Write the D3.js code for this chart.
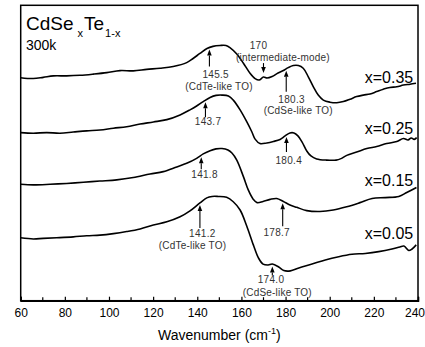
<!DOCTYPE html>
<html>
<head>
<meta charset="utf-8">
<script src="https://cdn.jsdelivr.net/npm/d3@7/dist/d3.min.js"></script>
<style>
  html, body { margin: 0; padding: 0; background: #fff; }
  svg { display: block; }
  text { font-family: "Liberation Sans", Arial, sans-serif; }
</style>
</head>
<body>
<svg id="chart" width="425" height="347"></svg>
<script>
// Far-infrared reflectivity of CdSe(x)Te(1-x) at 300 K, curves offset vertically (arb. units)
const seriesNames = ["x=0.35", "x=0.25", "x=0.15", "x=0.05"];

const wn035 = [60, 65.7, 70.2, 74.8, 80.8, 86.9, 92.9, 99.0, 105.0, 111.0, 117.1, 123.1, 129.1, 135.2, 138.1, 141.2, 144.4, 147.1, 150.3, 153.0, 154.8, 157.9, 160.9, 163.9, 166.2, 168.0, 170.0, 171.6, 173.9, 176.6, 179.0, 181.2, 183.5, 185.8, 188.0, 190.3, 192.6, 194.8, 197.1, 200.1, 203.2, 206.2, 209.2, 212.2, 215.2, 218.3, 221.3, 224.3, 227.3, 230.4, 233.4, 236.4, 239.1];
const int035 = [75.5, 75.2, 75.6, 76.1, 76.1, 76.3, 76.7, 77.2, 77.9, 77.8, 78.3, 78.7, 79.3, 80.6, 82.0, 83.7, 85.4, 86.1, 86.4, 86.4, 85.7, 83.5, 80.4, 77.0, 75.2, 74.7, 75.7, 75.4, 75.9, 77.1, 77.9, 78.9, 79.6, 79.6, 78.7, 75.8, 72.4, 69.6, 67.9, 67.2, 67.0, 67.4, 68.2, 69.1, 69.6, 70.0, 70.8, 71.6, 72.2, 72.4, 73.0, 73.3, 73.6];

const wn025 = [60, 65.7, 71.8, 77.8, 83.8, 89.9, 95.9, 102.0, 108.0, 114.1, 120.1, 126.2, 132.2, 136.7, 139.7, 142.7, 145.8, 148.5, 151.2, 154.1, 156.3, 159.4, 162.4, 164.7, 166.2, 168.4, 171.5, 174.5, 177.5, 179.8, 182.0, 183.8, 185.6, 187.5, 189.6, 191.5, 194.1, 198.6, 202.9, 205.1, 207.7, 212.2, 216.8, 221.3, 225.8, 230.4, 233.4, 235.5, 236.9, 238.3, 239.4];
const int025 = [56.9, 56.7, 56.9, 56.7, 57.1, 57.5, 57.8, 58.4, 58.9, 59.8, 60.5, 61.3, 62.9, 64.6, 65.9, 67.4, 68.8, 69.5, 69.6, 69.3, 67.9, 64.6, 60.6, 57.2, 54.7, 53.2, 53.4, 53.9, 54.6, 55.8, 56.8, 56.8, 55.8, 53.7, 50.7, 49.0, 48.0, 47.6, 47.6, 48.1, 49.2, 50.3, 51.5, 52.2, 53.2, 53.9, 54.9, 54.4, 55.1, 54.6, 55.2];

const wn015 = [60, 65.7, 73.3, 80.8, 88.4, 95.9, 103.5, 111.0, 118.6, 124.6, 130.7, 135.2, 139.7, 142.7, 145.8, 148.5, 151.2, 153.9, 155.7, 157.9, 160.9, 163.1, 165.4, 167.1, 169.8, 173.0, 176.0, 179.0, 182.0, 185.1, 189.6, 195.6, 201.6, 207.7, 213.7, 219.2, 225.2, 231.3, 234.9, 239.3];
const int015 = [39.4, 39.2, 39.4, 39.7, 40.1, 40.5, 40.9, 41.7, 42.9, 43.7, 45.3, 46.5, 48.2, 49.7, 50.8, 51.4, 51.5, 51.0, 50.0, 47.6, 42.0, 37.5, 34.3, 33.2, 33.6, 34.3, 34.6, 33.6, 32.4, 31.6, 30.5, 30.2, 30.7, 31.8, 33.2, 34.6, 34.9, 35.3, 36.6, 38.3];

const wn005 = [60, 65.7, 70.2, 76.3, 83.8, 89.9, 95.9, 102.0, 108.0, 114.1, 120.1, 126.2, 132.2, 136.7, 141.2, 144.3, 146.7, 149.4, 153.3, 156.3, 159.4, 162.4, 165.4, 167.7, 169.8, 172.1, 174.0, 176.9, 179.2, 182.2, 186.0, 192.0, 198.0, 204.1, 210.1, 216.1, 222.2, 228.2, 231.8, 233.6, 235.8, 237.3, 239.2];
const int005 = [21.3, 20.9, 21.1, 21.3, 21.6, 22.0, 22.2, 22.7, 23.4, 24.3, 25.6, 26.7, 28.4, 30.4, 33.1, 34.8, 35.3, 35.3, 35.0, 33.5, 30.7, 25.3, 18.9, 14.5, 12.4, 12.1, 12.4, 11.4, 10.2, 10.1, 11.1, 12.4, 13.8, 14.9, 15.7, 16.0, 16.6, 17.5, 18.2, 18.5, 17.0, 17.5, 18.9];

const seriesWn = [wn035, wn025, wn015, wn005];
const seriesInt = [int035, int025, int015, int005];

// Assigned phonon modes: series index, wavenumber, label lines
const peakSeries = [0, 0, 0, 1, 1, 2, 2, 3, 3];
const peakValues = [145.5, 170, 180.3, 143.7, 180.4, 141.8, 178.7, 141.2, 174.0];
const peakLabels = ["145.5", "170", "180.3", "143.7", "180.4", "141.8", "178.7", "141.2", "174.0"];
const peakNotes = ["(CdTe-like TO)", "(intermediate-mode)", "(CdSe-like TO)", "", "", "", "", "(CdTe-like TO)", "(CdSe-like TO)"];

const xTickValues = [60, 80, 100, 120, 140, 160, 180, 200, 220, 240];
const xMinorTicks = [70, 90, 110, 130, 150, 170, 190, 210, 230];

// ---- layout ----
const plot = { left: 20.7, top: 5.3, right: 418, bottom: 300.7 };

// arrow: dir (-1 up from below, +1 down from above), gap to curve, length, text offsets [dx, dy] from tip
const peakLayout = [
  { dir: -1, gap: 2, len: 17, t1: [6.3, 28], t2: [9.6, 40.5] },
  { dir: 1, gap: 4, len: 10, t1: [-5, -24.5], t2: [19.5, -12.5] },
  { dir: -1, gap: 2, len: 21, t1: [5.4, 32], t2: [12, 42.7] },
  { dir: -1, gap: 2, len: 15, t1: [2.6, 22.9] },
  { dir: -1, gap: 2, len: 15, t1: [2.3, 26.5] },
  { dir: -1, gap: 2, len: 12, t1: [3.3, 20.3] },
  { dir: -1, gap: 2, len: 23, t1: [-6, 33.2] },
  { dir: -1, gap: 2, len: 23, t1: [2.4, 31.8], t2: [-7.4, 44.5] },
  { dir: -1, gap: 2.4, len: 9, t1: [-1.3, 17], t2: [5, 29.3] }
];
// series labels: baseline offset above curve at 230 cm-1
const seriesLabelDy = [-4.2, -7.5, -10.7, -8.5];

const svg = d3.select("#chart");

const x = d3.scaleLinear().domain([60, 240]).range([plot.left, plot.right]);
const y = d3.scaleLinear().domain([0, 100]).range([plot.bottom, plot.top]);

function valueAt(wn, ints, w) {
  const i = Math.max(1, Math.min(wn.length - 1, d3.bisectLeft(wn, w)));
  const t = (w - wn[i - 1]) / (wn[i] - wn[i - 1]);
  return ints[i - 1] + t * (ints[i] - ints[i - 1]);
}

// frame
svg.append("rect")
  .attr("x", plot.left).attr("y", plot.top)
  .attr("width", plot.right - plot.left).attr("height", plot.bottom - plot.top)
  .attr("fill", "none").attr("stroke", "#000").attr("stroke-width", 1.5);

// bottom axis with inward ticks
const axisG = svg.append("g").attr("transform", `translate(0,${plot.bottom})`);
axisG.call(d3.axisBottom(x).tickValues(xTickValues).tickSize(-4).tickPadding(8).tickFormat(d3.format("d")));
axisG.select(".domain").attr("stroke-width", 1.5);
axisG.selectAll(".tick line").attr("stroke-width", 1.2);
axisG.selectAll(".tick text")
  .attr("font-family", "'Liberation Sans', Arial, sans-serif")
  .attr("font-size", 12).attr("fill", "#000");
// the last label sits at the window edge: right-align it so it stays readable
axisG.selectAll(".tick text").filter(d => d === 240)
  .attr("text-anchor", "end").attr("dx", 6.5);
axisG.selectAll(".minor").data(xMinorTicks).enter().append("line")
  .attr("class", "minor")
  .attr("x1", d => x(d)).attr("x2", d => x(d))
  .attr("y1", 0).attr("y2", -3.5)
  .attr("stroke", "#000").attr("stroke-width", 1.2);

// axis title
const xt = svg.append("text")
  .attr("x", (plot.left + plot.right) / 2).attr("y", 340)
  .attr("text-anchor", "middle").attr("font-size", 14).attr("fill", "#000");
xt.append("tspan").text("Wavenumber (cm");
xt.append("tspan").attr("dy", -6).attr("font-size", 9).text("-1");
xt.append("tspan").attr("dy", 6).text(")");

// curves
const line = d3.line()
  .x(d => x(d[0])).y(d => y(d[1]))
  .curve(d3.curveCatmullRom.alpha(0.5));

seriesWn.forEach((wn, s) => {
  const pts = wn.map((w, i) => [w, seriesInt[s][i]]);
  svg.append("path")
    .attr("d", line(pts))
    .attr("fill", "none").attr("stroke", "#000")
    .attr("stroke-width", 1.6).attr("stroke-linejoin", "round");
});

// series labels
seriesNames.forEach((name, s) => {
  const yy = y(valueAt(seriesWn[s], seriesInt[s], 230)) + seriesLabelDy[s];
  svg.append("text")
    .attr("x", 389).attr("y", yy)
    .attr("text-anchor", "middle").attr("font-size", 16).attr("fill", "#000")
    .text(name);
});

// peak arrows and labels
peakValues.forEach((v, k) => {
  const s = peakSeries[k];
  const L = peakLayout[k];
  const px = x(v);
  const cy = y(valueAt(seriesWn[s], seriesInt[s], v));
  const tip = cy - L.dir * L.gap;         // tip sits just off the curve
  const tail = tip - L.dir * L.len;
  const headLen = 6, headW = 2.3;
  const headBase = tip - L.dir * headLen;
  svg.append("line")
    .attr("x1", px).attr("x2", px)
    .attr("y1", tail).attr("y2", headBase)
    .attr("stroke", "#000").attr("stroke-width", 1.1);
  svg.append("path")
    .attr("d", `M${px},${tip}L${px - headW},${headBase}L${px + headW},${headBase}Z`)
    .attr("fill", "#000");

  svg.append("text")
    .attr("x", px + L.t1[0]).attr("y", tip + L.t1[1])
    .attr("text-anchor", "middle").attr("font-size", 10)
    .attr("letter-spacing", 0.3).attr("fill", "#333")
    .text(peakLabels[k]);
  if (peakNotes[k] && L.t2) {
    svg.append("text")
      .attr("x", px + L.t2[0]).attr("y", tip + L.t2[1])
      .attr("text-anchor", "middle").attr("font-size", 10)
      .attr("letter-spacing", 0.2).attr("fill", "#333")
      .text(peakNotes[k]);
  }
});

// title block
const title = svg.append("text").attr("x", 26).attr("y", 30).attr("fill", "#000").attr("font-size", 19);
title.append("tspan").text("CdSe");
title.append("tspan").attr("dx", 4).attr("dy", 7).attr("font-size", 11).text("x");
title.append("tspan").attr("dx", 1).attr("dy", -7).text("Te");
title.append("tspan").attr("dx", 1).attr("dy", 7).attr("font-size", 11).text("1-x");

svg.append("text").attr("x", 26).attr("y", 49.5)
  .attr("font-size", 14).attr("fill", "#000").text("300k");
</script>
</body>
</html>
